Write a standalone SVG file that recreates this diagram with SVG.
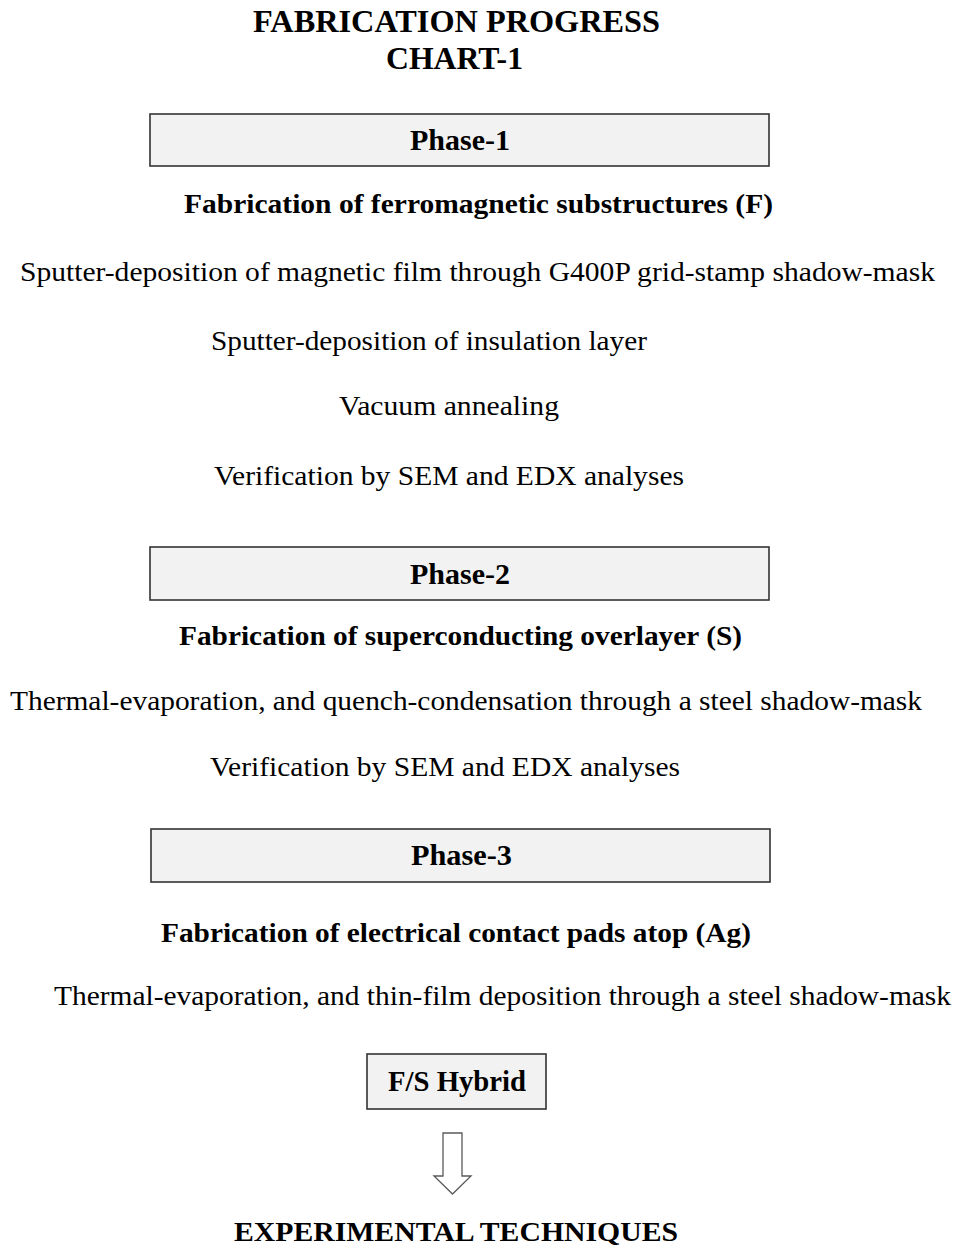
<svg xmlns="http://www.w3.org/2000/svg" width="955" height="1245" viewBox="0 0 955 1245">
<style>
.t{font-family:"Liberation Serif","Times New Roman",serif;fill:#000}
.body{font-size:28px}
.sub{font-size:28px;font-weight:bold}
.ph{font-size:29px;font-weight:bold}
.title{font-size:31px;font-weight:bold}
.box{fill:#f2f2f2;stroke:#333;stroke-width:1.6}
.arrow{fill:#fff;stroke:#595959;stroke-width:1.3}
</style>
<rect width="955" height="1245" fill="#fff"/>
<g id="title">
<text class="t title" x="253" y="32" textLength="407" lengthAdjust="spacingAndGlyphs">FABRICATION PROGRESS</text>
<text class="t title" x="386" y="69" textLength="137" lengthAdjust="spacingAndGlyphs">CHART-1</text>
</g>
<g id="phase1">
<rect class="box" x="150" y="114" width="619" height="52"/>
<text class="t ph" x="410" y="150" textLength="100" lengthAdjust="spacingAndGlyphs">Phase-1</text>
</g>
<g id="phase1-steps">
<text class="t sub" x="184" y="213" textLength="589" lengthAdjust="spacingAndGlyphs">Fabrication of ferromagnetic substructures (F)</text>
<text class="t body" x="20" y="281" textLength="915" lengthAdjust="spacingAndGlyphs">Sputter-deposition of magnetic  film through G400P  grid-stamp shadow-mask</text>
<text class="t body" x="211" y="350" textLength="436" lengthAdjust="spacingAndGlyphs">Sputter-deposition of insulation layer</text>
<text class="t body" x="339" y="415" textLength="220" lengthAdjust="spacingAndGlyphs">Vacuum annealing</text>
<text class="t body" x="214" y="485" textLength="470" lengthAdjust="spacingAndGlyphs">Verification by SEM  and EDX  analyses</text>
</g>
<g id="phase2">
<rect class="box" x="150" y="547" width="619" height="53"/>
<text class="t ph" x="410" y="584" textLength="100" lengthAdjust="spacingAndGlyphs">Phase-2</text>
</g>
<g id="phase2-steps">
<text class="t sub" x="179" y="645" textLength="563" lengthAdjust="spacingAndGlyphs">Fabrication of superconducting overlayer (S)</text>
<text class="t body" x="10" y="710" textLength="912" lengthAdjust="spacingAndGlyphs">Thermal-evaporation, and quench-condensation through a steel shadow-mask</text>
<text class="t body" x="210" y="776" textLength="470" lengthAdjust="spacingAndGlyphs">Verification by SEM  and EDX  analyses</text>
</g>
<g id="phase3">
<rect class="box" x="151" y="829" width="619" height="53"/>
<text class="t ph" x="411" y="865" textLength="101" lengthAdjust="spacingAndGlyphs">Phase-3</text>
</g>
<g id="phase3-steps">
<text class="t sub" x="161" y="942" textLength="590" lengthAdjust="spacingAndGlyphs">Fabrication of electrical contact pads atop (Ag)</text>
<text class="t body" x="54" y="1005" textLength="897" lengthAdjust="spacingAndGlyphs">Thermal-evaporation, and thin-film deposition through a steel  shadow-mask</text>
</g>
<g id="hybrid">
<rect class="box" x="367" y="1054" width="179" height="55"/>
<text class="t ph" x="388" y="1091" textLength="138" lengthAdjust="spacingAndGlyphs">F/S Hybrid</text>
</g>
<g id="connectors">
<path class="arrow" d="M443,1133 H462 V1176 H471 L452.5,1194 L434,1176 H443 Z"/>
</g>
<g id="experimental">
<text class="t sub" x="234" y="1241" textLength="444" lengthAdjust="spacingAndGlyphs">EXPERIMENTAL TECHNIQUES</text>
</g>
</svg>
